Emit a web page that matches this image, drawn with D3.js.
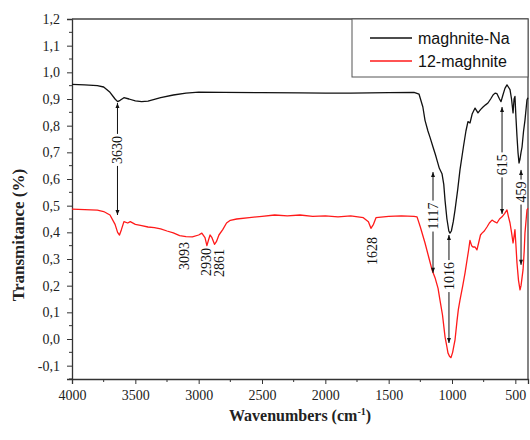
<html>
<head>
    <style>
        body {margin:0; background:white}
        text {font-family: "Liberation Serif", "Times New Roman", serif}
    </style>
    <script src="https://d3js.org/d3.v7.min.js"></script>
</head>
<body>
    <script>
        //Spectrum of maghnite-Na : wavenumber (cm-1) and transmitance
        var naWn = [4000,3900,3800,3750,3700,3660,3640,3620,3590,3550,3500,3450,3400,3300,3200,3100,3000,2800,2500,2200,2000,1800,1500,1300,1260,1230,1213,1190,1174,1150,1130,1118,1100,1079,1065,1055,1040,1025,1016,1005,990,976,955,937,910,890,874,858,840,818,795,775,755,735,716,695,676,660,645,625,613,598,582,566,555,542,530,518,510,503,495,487,479,471,463,455,447,435,424,408,400];
        var naT  = [0.955,0.953,0.950,0.945,0.925,0.900,0.890,0.895,0.905,0.900,0.893,0.890,0.892,0.905,0.915,0.922,0.926,0.925,0.924,0.923,0.922,0.922,0.924,0.925,0.918,0.870,0.820,0.780,0.757,0.720,0.690,0.670,0.640,0.620,0.580,0.520,0.450,0.405,0.397,0.405,0.440,0.484,0.560,0.634,0.720,0.780,0.815,0.810,0.845,0.866,0.848,0.860,0.870,0.878,0.885,0.900,0.915,0.922,0.920,0.900,0.890,0.915,0.940,0.953,0.945,0.935,0.900,0.848,0.900,0.910,0.830,0.760,0.700,0.660,0.675,0.700,0.720,0.780,0.820,0.897,0.905];

        //Spectrum of 12-maghnite
        var mgWn = [4000,3900,3800,3750,3700,3660,3640,3625,3610,3590,3560,3540,3500,3450,3400,3350,3300,3250,3200,3150,3100,3050,3000,2975,2950,2935,2920,2910,2895,2875,2860,2840,2810,2780,2750,2700,2600,2500,2400,2300,2200,2100,2000,1900,1800,1700,1660,1640,1620,1600,1500,1400,1300,1276,1250,1213,1180,1158,1134,1110,1095,1075,1055,1040,1032,1020,1008,995,985,976,960,950,937,915,897,880,870,858,845,834,818,803,790,775,763,745,724,705,684,665,645,625,605,585,566,555,542,530,518,510,503,495,487,475,463,455,439,430,424,408,400];
        var mgT  = [0.487,0.485,0.483,0.478,0.465,0.430,0.400,0.390,0.410,0.440,0.435,0.440,0.430,0.425,0.420,0.418,0.413,0.405,0.398,0.388,0.384,0.383,0.390,0.397,0.380,0.350,0.375,0.390,0.380,0.355,0.365,0.390,0.410,0.435,0.445,0.450,0.455,0.460,0.465,0.462,0.465,0.460,0.462,0.458,0.462,0.455,0.440,0.415,0.430,0.455,0.460,0.462,0.460,0.458,0.420,0.360,0.300,0.260,0.230,0.190,0.146,0.090,0.008,-0.030,-0.052,-0.065,-0.070,-0.050,-0.025,-0.003,0.070,0.110,0.146,0.200,0.248,0.300,0.330,0.370,0.350,0.345,0.345,0.334,0.360,0.390,0.397,0.405,0.420,0.435,0.446,0.440,0.435,0.450,0.458,0.470,0.484,0.460,0.435,0.400,0.360,0.385,0.410,0.350,0.285,0.220,0.184,0.200,0.260,0.330,0.397,0.484,0.490];

        var seriesNames = ["maghnite-Na", "12-maghnite"];
        var seriesColors = ["#111111", "#ff1a1a"];

        var xTicks = [4000,3500,3000,2500,2000,1500,1000,500];
        var yTicks = [1.2,1.1,1.0,0.9,0.8,0.7,0.6,0.5,0.4,0.3,0.2,0.1,0.0,-0.1];

        //Peak marks: label, position (cm-1), line from/to (T) and label centre (T)
        //lines with no from/to are just labels
        var peakText = ["3630","3093","2930","2861","1628","1117","1016","615","459"];
        var peakWn   = [3641,3116,2942,2840,1632,1150,1024,605,455];
        var peakTop  = [0.885,null,null,null,null,0.626,0.390,0.870,0.634];
        var peakBot  = [0.465,null,null,null,null,0.248,-0.015,0.469,0.278];
        var peakMid  = [0.709,0.311,0.289,0.285,0.330,0.461,0.236,0.653,0.551];

        var width = 530, height = 440;
        var pLeft = 72, pRight = 528, pTop = 19, pBottom = 379;

        var svg = d3.select("body").append("svg")
            .attr("width", width)
            .attr("height", height);

        var x = d3.scaleLinear().domain([4000, 400]).range([pLeft, pRight]);
        var y = d3.scaleLinear().domain([-0.15, 1.2]).range([pBottom, pTop]);

        //~~~~~~~~~~~~~~~~~~~~~~~~~~~~~~~~~~~~~~~~~~~~~
        //Axes
        //~~~~~~~~~~~~~~~~~~~~~~~~~~~~~~~~~~~~~~~~~~~~~
        var fmt = d => d3.format(".1f")(d).replace(".", ",").replace("−", "-");

        var xMinor = d3.range(3750, 400, -500);
        var yMinor = d3.range(-0.15, 1.2, 0.1);

        var xAxis = svg.append("g")
            .attr("transform", `translate(0,${pBottom})`)
            .call(d3.axisBottom(x).tickValues(xTicks).tickSize(5).tickPadding(6).tickFormat(d3.format("d")));
        xAxis.selectAll("text").style("font-size", "14px").attr("fill", "#222");
        xAxis.append("g").selectAll("line").data(xMinor).join("line")
            .attr("x1", d => x(d)).attr("x2", d => x(d))
            .attr("y1", 0).attr("y2", 3)
            .attr("stroke", "#333");

        var yAxis = svg.append("g")
            .attr("transform", `translate(${pLeft},0)`)
            .call(d3.axisLeft(y).tickValues(yTicks).tickSize(5).tickPadding(7).tickFormat(fmt));
        yAxis.selectAll("text").style("font-size", "14px").attr("fill", "#222");
        yAxis.append("g").selectAll("line").data(yMinor).join("line")
            .attr("x1", 0).attr("x2", -3)
            .attr("y1", d => y(d)).attr("y2", d => y(d))
            .attr("stroke", "#333");

        svg.selectAll(".domain").attr("stroke", "#333").attr("stroke-width", 1.3);
        svg.selectAll(".tick line").attr("stroke", "#333");

        //frame top & right
        svg.append("path")
            .attr("fill", "none")
            .attr("stroke", "#444")
            .attr("stroke-width", 1.3)
            .attr("d", `M${pLeft},${pTop}H${pRight}V${pBottom}`);

        //axis titles
        svg.append("text")
            .attr("transform", `translate(24,235) rotate(-90)`)
            .attr("text-anchor", "middle")
            .style("font-size", "17px")
            .style("font-weight", "bold")
            .attr("fill", "#222")
            .text("Transmitance (%)");

        var xt = svg.append("text")
            .attr("x", 300)
            .attr("y", 421)
            .attr("text-anchor", "middle")
            .style("font-size", "16px")
            .style("font-weight", "bold")
            .attr("fill", "#222");
        xt.append("tspan").text("Wavenumbers (cm");
        xt.append("tspan").attr("dy", -6).style("font-size", "10px").text("-1");
        xt.append("tspan").attr("dy", 6).text(")");

        //~~~~~~~~~~~~~~~~~~~~~~~~~~~~~~~~~~~~~~~~~~~~~
        //Spectra
        //~~~~~~~~~~~~~~~~~~~~~~~~~~~~~~~~~~~~~~~~~~~~~
        var line = d3.line()
            .x(d => x(d[0]))
            .y(d => y(d[1]));

        var spectra = [d3.zip(naWn, naT), d3.zip(mgWn, mgT)];

        svg.append("g")
            .attr("fill", "none")
            .attr("stroke-width", 1.3)
            .attr("stroke-linejoin", "round")
            .selectAll("path")
            .data(spectra)
            .join("path")
            .attr("stroke", (d, i) => seriesColors[i])
            .attr("d", line);

        //~~~~~~~~~~~~~~~~~~~~~~~~~~~~~~~~~~~~~~~~~~~~~
        //Peak labels
        //~~~~~~~~~~~~~~~~~~~~~~~~~~~~~~~~~~~~~~~~~~~~~
        var peaks = peakText.map((t, i) => ({t: t, wn: peakWn[i], top: peakTop[i], bot: peakBot[i], mid: peakMid[i]}));

        var pg = svg.append("g");
        peaks.forEach(function(p) {
            var px = x(p.wn), py = y(p.mid);
            var lab = pg.append("text")
                .attr("transform", `translate(${px + 5},${py}) rotate(-90)`)
                .attr("text-anchor", "middle")
                .style("font-size", "14px")
                .attr("fill", "#111")
                .text(p.t);
            if (p.top == null) return;
            var half = lab.node().getComputedTextLength() / 2 + 2;
            var y1 = y(p.top), y2 = y(p.bot);
            pg.append("line")
                .attr("x1", px).attr("x2", px)
                .attr("y1", y1).attr("y2", py - half)
                .attr("stroke", "#111");
            pg.append("line")
                .attr("x1", px).attr("x2", px)
                .attr("y1", py + half).attr("y2", y2)
                .attr("stroke", "#111");
            //small arrow heads
            pg.append("path")
                .attr("fill", "#111")
                .attr("d", `M${px},${y1}l-2,5h4z M${px},${y2}l-2,-5h4z`);
        });

        //~~~~~~~~~~~~~~~~~~~~~~~~~~~~~~~~~~~~~~~~~~~~~
        //Legend
        //~~~~~~~~~~~~~~~~~~~~~~~~~~~~~~~~~~~~~~~~~~~~~
        var lg = svg.append("g");
        lg.append("rect")
            .attr("x", 352).attr("y", pTop)
            .attr("width", pRight - 352).attr("height", 58)
            .attr("fill", "white")
            .attr("stroke", "#555");
        seriesNames.forEach(function(n, i) {
            var ly = 38 + i * 23;
            lg.append("line")
                .attr("x1", 370).attr("x2", 412)
                .attr("y1", ly).attr("y2", ly)
                .attr("stroke", seriesColors[i])
                .attr("stroke-width", 1.5);
            lg.append("text")
                .attr("x", 418).attr("y", ly + 6)
                .style("font-family", "'Liberation Sans', Arial, sans-serif")
                .style("font-size", "16px")
                .attr("fill", "#111")
                .text(n);
        });
    </script>
</body>
</html>
